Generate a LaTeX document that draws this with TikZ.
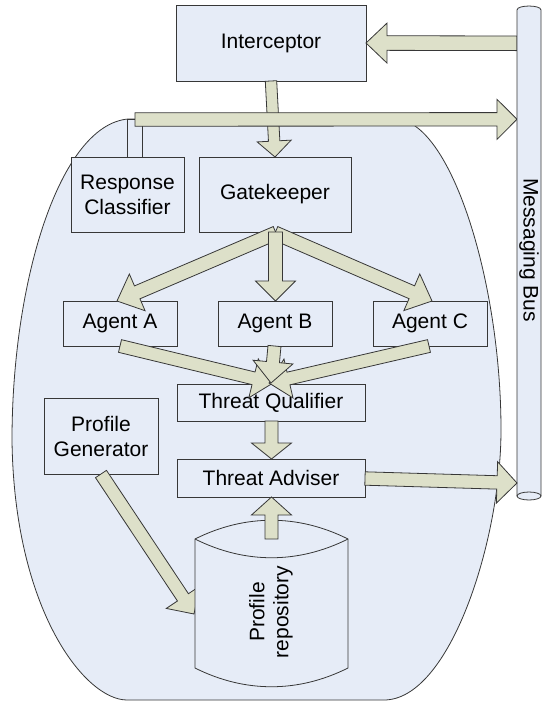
\documentclass[tikz,border=0pt]{standalone}
\usepackage{fontspec}
\setmainfont{Liberation Sans}
\usetikzlibrary{calc}
\definecolor{boxfill}{RGB}{230,236,247}
\definecolor{arrfill}{RGB}{221,224,201}
\definecolor{edgecol}{RGB}{55,55,55}
\tikzset{
  boxnode/.style={draw=edgecol, fill=boxfill, line width=0.8pt, inner sep=0pt, align=center, font=\fontsize{21}{25}\selectfont},
  shapeline/.style={draw=edgecol, fill=boxfill, line width=0.8pt},
  arrowbody/.style={draw=edgecol, fill=arrfill, line width=0.8pt, line join=miter},
  txt/.style={font=\fontsize{21}{24}\selectfont, align=center, inner sep=0pt}
}
% #1 start, #2 tip, #3 half shaft width, #4 half head width, #5 head length
\newcommand\blockarr[5]{%
  \coordinate (ba-b) at ($(#2)!#5!(#1)$);
  \draw[arrowbody] ($(#1)!#3!90:(#2)$) -- ($(ba-b)!#3!90:(#2)$) -- ($(ba-b)!#4!90:(#2)$)
    -- (#2) -- ($(ba-b)!#4!-90:(#2)$) -- ($(ba-b)!#3!-90:(#2)$) -- ($(#1)!#3!-90:(#2)$) -- cycle;
}
\begin{document}
\begin{tikzpicture}[x=1pt,y=-1pt]
\useasboundingbox (0,0) rectangle (542,702);

% container
\draw[shapeline] (128,119) -- (395,119) .. controls (450,119) and (501,280) .. (501,430)
  .. controls (501,540) and (450,700) .. (384,700) -- (127,700)
  .. controls (85,700) and (14,610) .. (12,440)
  .. controls (12,280) and (60,125) .. (128,119) -- cycle;

% link rectangle above Response Classifier
\draw[shapeline] (127.7,119.3) rectangle (142.7,157);

% boxes
\node[boxnode, minimum width=190pt, minimum height=76pt] (icp) at (271,43) {Interceptor};
\node[boxnode, minimum width=113pt, minimum height=75pt] (rc) at (127.5,194.5) {Response\\Classifier};
\node[boxnode, minimum width=152pt, minimum height=75pt] (gk) at (275,194.5) {Gatekeeper};
\node[boxnode, minimum width=114pt, minimum height=45pt] (ag-a) at (120,323.5) {Agent A};
\node[boxnode, minimum width=114pt, minimum height=45pt] (ag-b) at (275,323.5) {Agent B};
\node[boxnode, minimum width=114pt, minimum height=45pt] (ag-c) at (430,323.5) {Agent C};
\node[boxnode, minimum width=188pt, minimum height=37pt] (tq) at (271,402.5) {Threat Qualifier};
\node[boxnode, minimum width=114pt, minimum height=76pt] (pg) at (101,436) {Profile\\Generator};
\node[boxnode, minimum width=188pt, minimum height=38pt] (ta) at (271,478) {Threat Adviser};

% connector end points
\coordinate (busA) at (517,43.3);
\coordinate (icpIn) at (366,43);
\coordinate (icpOut) at (271,81);
\coordinate (gkIn) at (275,157);
\coordinate (rcOut) at (135,119.5);
\coordinate (busB) at (517,119.3);
\coordinate (gkOutA) at (276,233);
\coordinate (gkOutB) at (275.5,232);
\coordinate (gkOutC) at (275,233);
\coordinate (aIn) at (117,301);
\coordinate (bIn) at (275.5,301);
\coordinate (cIn) at (432,301);
\coordinate (aOut) at (120,346);
\coordinate (bOut) at (274.5,346);
\coordinate (cOut) at (429,346);
\coordinate (tqInA) at (273,383);
\coordinate (tqInB) at (271,383);
\coordinate (tqInC) at (269,383);
\coordinate (tqOut) at (271.5,421);
\coordinate (taIn) at (271.5,459);
\coordinate (taOut) at (365,478.5);
\coordinate (busC) at (517,483);
\coordinate (pgOut) at (101,474);
\coordinate (prIn) at (194,614);
\coordinate (prOut) at (271.5,539);
\coordinate (taInB) at (271.5,497);

% arrows
\blockarr{icpOut}{gkIn}{5.7pt}{17pt}{16pt}
\blockarr{rcOut}{busB}{6.7pt}{20pt}{20pt}
\blockarr{busA}{icpIn}{7.3pt}{20pt}{21pt}

% messaging bus
\draw[shapeline] (517,496) -- (517,10) .. controls (517,4.7) and (541,4.7) .. (541,10) -- (541,496);
\draw[shapeline] (529,496) ellipse [x radius=12pt, y radius=4pt];
\node[txt, rotate=-90] (bus) at (529,250) {Messaging Bus};

\blockarr{gkOutA}{aIn}{7pt}{20pt}{22pt}
\blockarr{gkOutC}{cIn}{7pt}{20pt}{22pt}
\blockarr{gkOutB}{bIn}{7pt}{20pt}{20pt}
\blockarr{aOut}{tqInA}{6.5pt}{20pt}{20pt}
\blockarr{cOut}{tqInC}{6.5pt}{20pt}{20pt}
\blockarr{bOut}{tqInB}{6.5pt}{20pt}{21pt}
\blockarr{tqOut}{taIn}{6.5pt}{20pt}{16pt}
\blockarr{taOut}{busC}{6.7pt}{20.7pt}{20pt}
\blockarr{pgOut}{prIn}{6.6pt}{20pt}{20pt}

% profile repository
\draw[shapeline] (195,539) .. controls (245,514) and (298,514) .. (348,539) -- (348,668)
  .. controls (298,693) and (245,693) .. (195,668) -- cycle;
\draw[edgecol, line width=0.8pt] (195,539) .. controls (245,564) and (298,564) .. (348,539);
\node[txt, rotate=90] (pr) at (271,612) {Profile\\repository};

\blockarr{prOut}{taInB}{6.5pt}{20pt}{18pt}
\end{tikzpicture}
\end{document}
